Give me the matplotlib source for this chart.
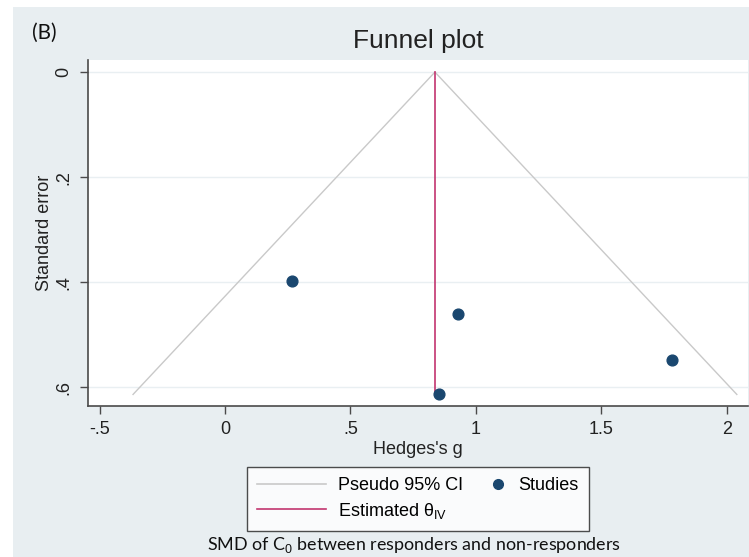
import matplotlib.pyplot as plt
from matplotlib.patches import Rectangle
from matplotlib.lines import Line2D
from matplotlib.legend_handler import HandlerLine2D

# study estimates (Hedges's g) and their standard errors
hedges_g = [0.267, 0.928, 1.782, 0.853]
std_err = [0.398, 0.461, 0.548, 0.613]

theta_iv = 0.837
se_max = 0.614

x_ticks = [-0.5, 0, 0.5, 1, 1.5, 2]
x_labels = ["-.5", "0", ".5", "1", "1.5", "2"]
y_ticks = [0, 0.2, 0.4, 0.6]
y_labels = ["0", ".2", ".4", ".6"]

plt.rcParams["font.family"] = ["Liberation Sans", "DejaVu Sans"]
plt.rcParams["mathtext.fontset"] = "custom"
plt.rcParams["mathtext.rm"] = "Liberation Sans"
plt.rcParams["mathtext.it"] = "Liberation Sans"

bg = "#e8eef1"
navy = "#1a476f"
cranberry = "#c2356f"
ci_gray = "#c9c9c9"
axis_col = "#4a4a4a"


class MarkerRight(HandlerLine2D):
    # put the legend marker next to its label, like Stata does
    # (with numpoints=1 the marker sits at the middle of xdata)
    def get_xdata(self, legend, xdescent, ydescent, width, height, fontsize):
        m = -xdescent + width - 0.5 * fontsize
        return [m - 1, m + 1], [m]


fig = plt.figure(figsize=(7.49, 5.57), dpi=100, facecolor="white")
# graph region background (image has a thin white margin top/left)
fig.patches.append(Rectangle((13 / 749, 0), 1, 1 - 7 / 557, transform=fig.transFigure,
                             facecolor=bg, edgecolor="none", zorder=-10))

ax = fig.add_axes([88 / 749, 1 - 406 / 557, 660 / 749, 346 / 557])
ax.set_facecolor("white")

# pseudo 95% confidence limits
ax.plot([theta_iv - 1.96 * se_max, theta_iv, theta_iv + 1.96 * se_max],
        [se_max, 0, se_max], color=ci_gray, lw=1.0, zorder=2)
# estimated effect
ax.plot([theta_iv, theta_iv], [0, se_max], color=cranberry, lw=1.2, zorder=3)
ax.scatter(hedges_g, std_err, s=60, color=navy, zorder=4)

ax.set_xlim(-0.546, 2.085)
ax.set_ylim(0.636, -0.023)

ax.set_xticks(x_ticks)
ax.set_xticklabels(x_labels)
ax.set_yticks(y_ticks)
ax.set_yticklabels(y_labels, rotation=90, va="center")
ax.tick_params(axis="both", length=6, width=1, color=axis_col, labelsize=13,
               labelcolor="#222222", pad=5)

ax.grid(axis="y", color="#e9eff2", lw=1.0, zorder=0)
ax.set_axisbelow(True)
for side in ["top", "right"]:
    ax.spines[side].set_visible(False)
for side in ["left", "bottom"]:
    ax.spines[side].set_color(axis_col)
    ax.spines[side].set_linewidth(1.2)

ax.set_xlabel("Hedges's g", fontsize=13, color="#222222", labelpad=2)
ax.set_ylabel("Standard error", fontsize=13, color="#222222")
ax.yaxis.set_label_coords(-0.053, 0.5)
fig.text(418 / 749, 1 - 41 / 557, "Funnel plot", ha="center", va="center",
         fontsize=19, color="#222222")
fig.text(44 / 749, 1 - 33 / 557, "(B)", ha="center", va="center", fontsize=15,
         family=["Lato", "DejaVu Sans"], color="#111111")

line_ci = Line2D([], [], color=ci_gray, lw=1.2)
line_est = Line2D([], [], color=cranberry, lw=1.2)
dot = Line2D([], [], marker="o", ls="none", color=navy, markersize=7)
leg = fig.legend([line_ci, line_est, dot],
                 ["Pseudo 95% CI", r"Estimated $\theta_{\rm IV}$", "Studies"],
                 ncol=2, loc="center", bbox_to_anchor=(418 / 749, 1 - 499 / 557),
                 fontsize=13, frameon=True, fancybox=False, edgecolor="#222222",
                 handlelength=3.8, columnspacing=-1.35, handletextpad=0.65,
                 labelspacing=0.35, borderpad=0.55, numpoints=1,
                 handler_map={dot: MarkerRight(numpoints=1)})
leg.get_frame().set_linewidth(1.0)

fig.text(414 / 749, 1 - 545 / 557, "SMD of C$_0$ between responders and non-responders",
         ha="center", va="center", fontsize=12.9, family=["Lato", "DejaVu Sans"],
         color="#111111")

fig.savefig("out.png", dpi=100, facecolor=fig.get_facecolor())
